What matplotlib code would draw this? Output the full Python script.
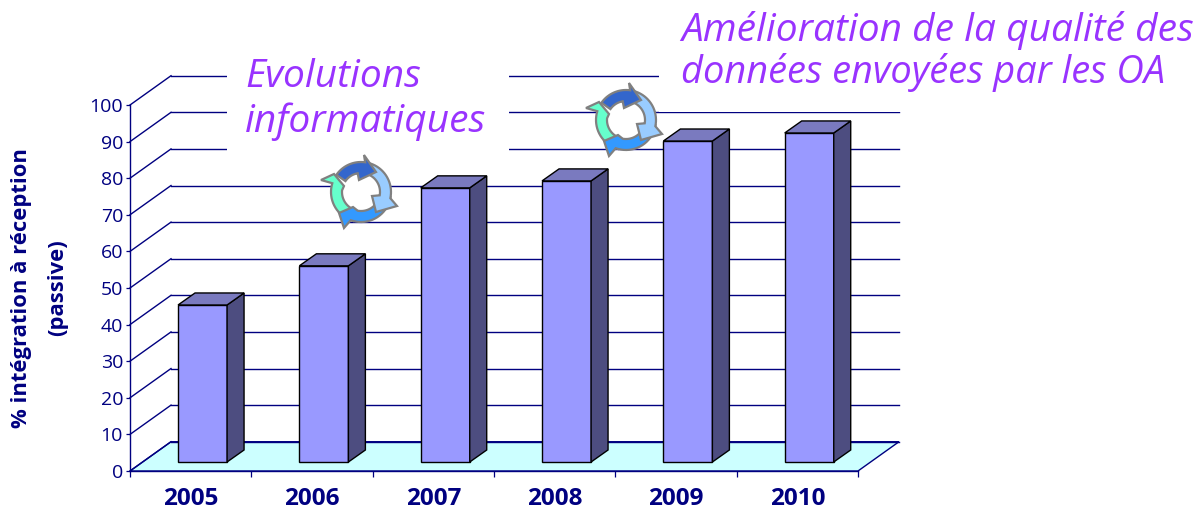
import numpy as np
import matplotlib
matplotlib.use('Agg')
import matplotlib.pyplot as plt
from matplotlib.patches import Polygon, Rectangle, Circle

years = ['2005', '2006', '2007', '2008', '2009', '2010']
values = [42.9, 53.6, 74.9, 76.8, 87.7, 89.9]
yticks = [0, 10, 20, 30, 40, 50, 60, 70, 80, 90, 100]

navy = '#000080'
purple = '#9933FF'
font = 'Open Sans'

# depth of the fake 3d box, in data units
wall_dx, wall_dy = 0.338, 8.0
bar_w, bar_dx, bar_dy = 0.404, 0.14, 3.28
bar_x0, bar_y0 = 0.396, 2.46

fig = plt.figure(figsize=(12, 5.09), dpi=100)
ax = fig.add_axes([130/1200, 38/509, 728/1200, 366/509])
ax.set_xlim(0, 6)
ax.set_ylim(0, 100)
ax.patch.set_visible(False)
for s in ['top', 'right']:
    ax.spines[s].set_visible(False)
for s in ['left', 'bottom']:
    ax.spines[s].set_color(navy)
    ax.spines[s].set_linewidth(1.0)

ax.set_yticks(yticks)
ax.tick_params(axis='y', colors=navy, length=3, width=0.9, labelsize=14, pad=2)
ax.set_xticks(range(7))
ax.set_xticklabels([])
ax.tick_params(axis='x', color=navy, length=4.5, width=0.9)
for label in ax.get_yticklabels():
    label.set_family(font)
for i, year in enumerate(years):
    ax.annotate(year, (i + 0.5, 0), xytext=(0, -20.5), textcoords='offset points',
                ha='center', va='center', color=navy, fontsize=17.5, fontweight='bold',
                family=font, annotation_clip=False)

# floor and walls
ax.add_patch(Polygon([(0, 0), (wall_dx, wall_dy), (6 + wall_dx, wall_dy), (6, 0)], closed=True,
                     facecolor='#CCFFFF', edgecolor=navy, linewidth=1, clip_on=False, zorder=1))
for y in yticks:
    ax.plot([0, wall_dx], [y, y + wall_dy], color=navy, lw=1.0, clip_on=False, zorder=1)
    ax.plot([wall_dx, 6 + wall_dx], [y + wall_dy, y + wall_dy], color=navy, lw=1.0, clip_on=False, zorder=1)

# white boxes behind the two comments hide the grid
ax.add_patch(Rectangle((0.80, 83), 2.32, 27, facecolor='white', edgecolor='none', clip_on=False, zorder=2))
ax.add_patch(Rectangle((4.36, 98), 2.0, 12, facecolor='white', edgecolor='none', clip_on=False, zorder=2))

# bars
for i, v in enumerate(values):
    x0 = i + bar_x0
    x1 = x0 + bar_w
    top = bar_y0 + v
    ax.add_patch(Rectangle((x0, bar_y0), bar_w, v, facecolor='#9999FF', edgecolor='black',
                           linewidth=1, clip_on=False, zorder=3))
    ax.add_patch(Polygon([(x1, bar_y0), (x1 + bar_dx, bar_y0 + bar_dy), (x1 + bar_dx, top + bar_dy), (x1, top)],
                         closed=True, facecolor='#4D4D80', edgecolor='black', linewidth=1, clip_on=False, zorder=3))
    ax.add_patch(Polygon([(x0, top), (x0 + bar_dx, top + bar_dy), (x1 + bar_dx, top + bar_dy), (x1, top)],
                         closed=True, facecolor='#7A7ABF', edgecolor='black', linewidth=1, clip_on=False, zorder=3))

# overlay in pixel coordinates for the comments and the icons
ov = fig.add_axes([0, 0, 1, 1])
ov.set_xlim(0, 1200)
ov.set_ylim(509, 0)
ov.axis('off')
ov.patch.set_visible(False)

ov.text(22, 288, '% intégration à réception', rotation=90, ha='center', va='center',
        color=navy, fontsize=15.8, fontweight='bold', family=font)
ov.text(58, 288, '(passive)', rotation=90, ha='center', va='center',
        color=navy, fontsize=15.8, fontweight='bold', family=font)

ov.text(245, 77, 'Evolutions', color=purple, fontsize=28, style='italic', family=font, va='center')
ov.text(245, 122, 'informatiques', color=purple, fontsize=28, style='italic', family=font, va='center')
ov.text(681, 30, 'Amélioration de la qualité des', color=purple, fontsize=28, style='italic', family=font, va='center')
ov.text(681, 72, 'données envoyées par les OA', color=purple, fontsize=27.4, style='italic', family=font, va='center')


def arc(r, a0, a1):
    t = np.radians(np.linspace(a0, a1, 20))
    return [(r * np.cos(a), r * np.sin(a)) for a in t]


def cycle_icon(cx, cy):
    # colour, outer arc start/end, inner arc start, head points (px from centre)
    arrows = [
        ('#66FFCC', 255, 163, 175, [(-40, 12), (-27, 18), (-17, 6)]),
        ('#3399FF', -10, -110, -100, [(-17, -36), (-22, -21), (-8, -15)]),
        ('#99CCFF', 75, -12, -10, [(36, -14), (15, -20), (11, -4)]),
        ('#3366CC', 145, 82, 100, [(3, 37), (15, 20), (-2, 12)]),
    ]
    ov.add_patch(Circle((cx, cy), 22, facecolor='white', edgecolor='none', zorder=4))
    for color, a0, a1, a2, head in arrows:
        pts = arc(30, a0, a1) + head + arc(19, a2, a0)
        ov.add_patch(Polygon([(cx + x, cy - y) for x, y in pts], closed=True,
                             facecolor=color, edgecolor='#808080', linewidth=1.6, zorder=5))


cycle_icon(626, 120)
cycle_icon(361, 192)

fig.savefig('out.png', dpi=100)
